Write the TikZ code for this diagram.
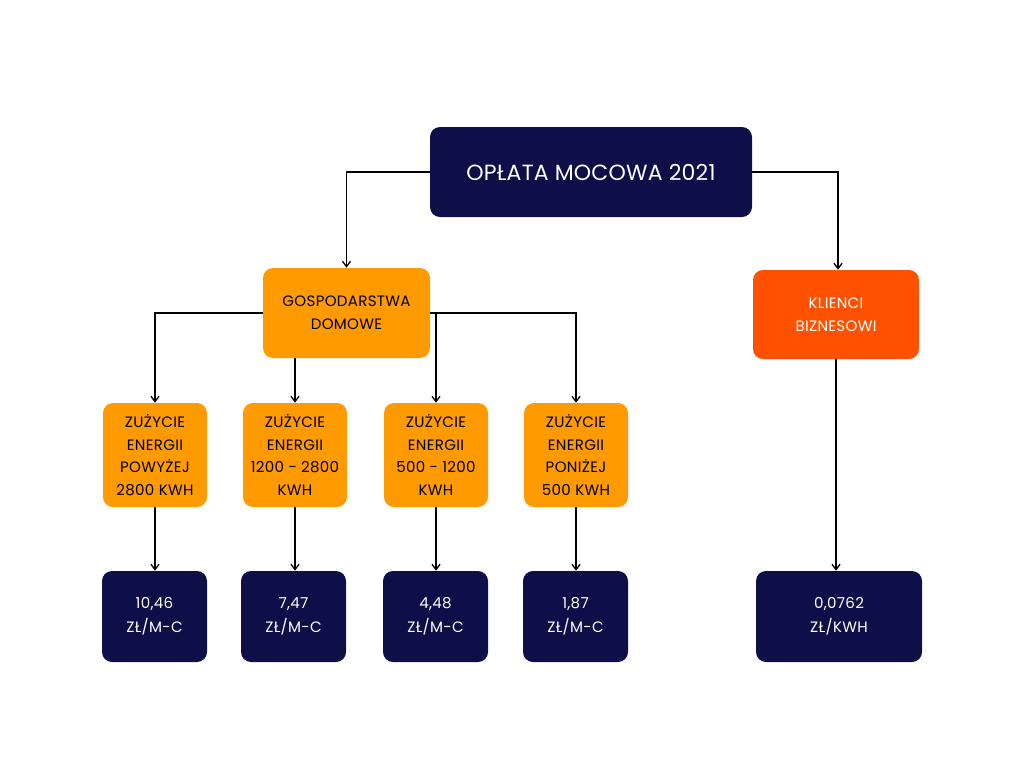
\documentclass[tikz,border=0pt]{standalone}
\usepackage{fontspec}
\setmainfont{Poppins}
\usetikzlibrary{arrows.meta}
\definecolor{navy}{RGB}{14,14,72}
\definecolor{amber}{RGB}{255,155,0}
\definecolor{redor}{RGB}{255,81,0}
\tikzset{
  box/.style={rounded corners=7.5pt, inner sep=0pt, align=center, font=\fontsize{11.3}{17}\selectfont\addfontfeatures{LetterSpace=2}},
  navybox/.style={box, fill=navy, text=white},
  amberbox/.style={box, fill=amber, text=black},
  redbox/.style={box, fill=redor, text=white},
  valbox/.style={navybox, minimum height=91*0.75pt, font=\fontsize{11.3}{18}\selectfont\addfontfeatures{LetterSpace=2}},
  conn/.style={line width=1pt, draw=black, -{Straight Barb[length=4pt,width=6pt]}},
}
\begin{document}
\begin{tikzpicture}[x=0.75pt,y=-0.75pt]
\useasboundingbox (0,0) rectangle (1024,768);
% top
\node[navybox, minimum width=322*0.75pt, minimum height=90*0.75pt, font=\fontsize{16.5}{18}\selectfont\addfontfeatures{LetterSpace=1}] (top) at (591,172) {OPŁATA MOCOWA 2021};
\node[amberbox, minimum width=167*0.75pt, minimum height=90*0.75pt] (gosp) at (346.5,313) {GOSPODARSTWA\\DOMOWE};
\node[redbox, minimum width=166*0.75pt, minimum height=89*0.75pt] (klie) at (836,314.5) {KLIENCI\\BIZNESOWI};
% zuzycie
\node[amberbox, minimum width=104*0.75pt, minimum height=104*0.75pt] (z1) at (155,455) {ZUŻYCIE\\ENERGII\\POWYŻEJ\\2800 KWH};
\node[amberbox, minimum width=104*0.75pt, minimum height=104*0.75pt] (z2) at (295,455) {ZUŻYCIE\\ENERGII\\1200 - 2800\\KWH};
\node[amberbox, minimum width=104*0.75pt, minimum height=104*0.75pt] (z3) at (436,455) {ZUŻYCIE\\ENERGII\\500 - 1200\\KWH};
\node[amberbox, minimum width=104*0.75pt, minimum height=104*0.75pt] (z4) at (576,455) {ZUŻYCIE\\ENERGII\\PONIŻEJ\\500 KWH};
% values
\node[valbox, minimum width=105*0.75pt] (v1) at (154.5,616.5) {10,46\\ZŁ/M-C};
\node[valbox, minimum width=105*0.75pt] (v2) at (293.5,616.5) {7,47\\ZŁ/M-C};
\node[valbox, minimum width=105*0.75pt] (v3) at (435.5,616.5) {4,48\\ZŁ/M-C};
\node[valbox, minimum width=105*0.75pt] (v4) at (575.5,616.5) {1,87\\ZŁ/M-C};
\node[valbox, minimum width=166*0.75pt] (v5) at (839,616.5) {0,0762\\ZŁ/KWH};
% connectors
\draw[conn] (top.west) -| (gosp.north);
\draw[conn] (top.east) -| ([xshift=2*0.75pt]klie.north);
\draw[conn] (gosp.west) -| (z1.north);
\draw[conn] (gosp.south -| z2.north) -- (z2.north);
\draw[conn] (gosp.east) -| (z3.north);
\draw[conn] (gosp.east) -| (z4.north);
\draw[conn] (z1.south) -- (z1.south |- v1.north);
\draw[conn] (z2.south) -- (z2.south |- v2.north);
\draw[conn] (z3.south) -- (z3.south |- v3.north);
\draw[conn] (z4.south) -- (z4.south |- v4.north);
\draw[conn] (klie.south) -- (klie.south |- v5.north);
\end{tikzpicture}
\end{document}
